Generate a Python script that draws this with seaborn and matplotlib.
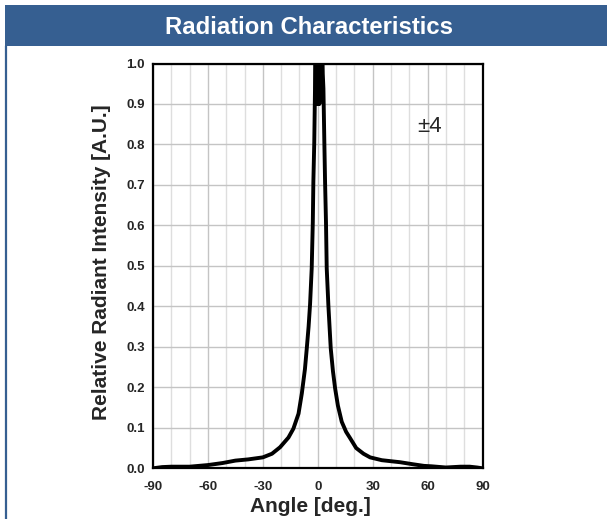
import numpy as np
import pandas as pd
import matplotlib
matplotlib.use("Agg")
import matplotlib.pyplot as plt
import seaborn as sns
from matplotlib.patches import Rectangle
from matplotlib.lines import Line2D

# valores
angulos = [-90, -85, -80, -70, -60, -52, -45, -38, -30, -25, -20.6, -16, -13.3, -10.5,
           -8.7, -7.0, -6.0, -5.0, -4.2, -3.3, -2.7, -2.4, -1.9, -1.5, -1.2,
           -0.9, -0.6, -0.3, 0.0, 0.3, 0.6, 0.9, 1.2, 1.5, 1.8, 2.1,
           2.5, 3.1, 3.6, 4.0, 4.5, 4.9, 5.8, 7.1, 8.3, 9.5, 11.0, 13.1, 15.5, 17.6,
           21.0, 25.0, 28.6, 35.0, 45.0, 52.0, 58.0, 62.0, 70.0, 78.0, 83.0, 87.0, 90.0]
intensidade = [0.0, 0.003, 0.004, 0.004, 0.008, 0.013, 0.019, 0.022, 0.027, 0.036, 0.052, 0.076, 0.098, 0.135,
               0.185, 0.245, 0.296, 0.350, 0.405, 0.494, 0.608, 0.707, 0.806, 0.938, 1.0,
               0.91, 1.0, 0.90, 1.0, 0.90, 1.0, 0.90, 1.0, 0.91, 1.0, 0.93,
               1.0, 0.938, 0.806, 0.707, 0.608, 0.494, 0.403, 0.296, 0.240, 0.197, 0.155, 0.115, 0.090, 0.075,
               0.050, 0.036, 0.027, 0.020, 0.015, 0.010, 0.006, 0.005, 0.002, 0.004, 0.004, 0.002, 0.0]

xticks = [-90, -60, -30, 0, 30, 60, 90]
yticks = [round(v * 0.1, 1) for v in range(11)]

sns.set_style("white")
plt.rcParams['font.family'] = ['Liberation Sans', 'DejaVu Sans']

fig = plt.figure(figsize=(6.07, 5.19), dpi=100)

# faixa azul do título e borda esquerda
azul = '#365f91'
fig.patches.append(Rectangle((5 / 607, 1 - 46 / 519), 1 - 5 / 607, 41 / 519,
                             transform=fig.transFigure, facecolor=azul, edgecolor='none'))
fig.lines.append(Line2D([5.5 / 607, 5.5 / 607], [0, 1 - 46 / 519], transform=fig.transFigure,
                        color=azul, linewidth=1.6))
fig.text(0.509, 1 - 27 / 519, "Radiation Characteristics", color='white', fontsize=17.2,
         fontweight='bold', ha='center', va='center')

ax = fig.add_axes([153 / 607, 1 - 468.3 / 519, 329.5 / 607, 404.8 / 519])

df = pd.DataFrame({'Angulo': angulos, 'Intensidade': intensidade})
sns.lineplot(data=df, x='Angulo', y='Intensidade', ax=ax, color='black', linewidth=2.8,
             sort=False, zorder=5)

ax.set_xlim(-90, 90)
ax.set_ylim(0, 1.0)
ax.set_xticks(xticks)
ax.set_yticks(yticks)
ax.set_xticklabels([str(v) for v in xticks], fontsize=9.5, fontweight='bold')
ax.set_yticklabels([f"{v:.1f}" for v in yticks], fontsize=9.5, fontweight='bold')
ax.set_xticks(list(range(-80, 90, 10)), minor=True)

ax.grid(which='major', axis='both', color='#c4c4c4', linewidth=1.0)
ax.grid(which='minor', axis='x', color='#dedede', linewidth=1.0)
ax.set_axisbelow(True)
ax.tick_params(axis='x', which='both', length=0, pad=9)
ax.tick_params(axis='y', length=3, width=1, direction='out', pad=3)

for sp in ax.spines.values():
    sp.set_color('black')
    sp.set_linewidth(1.6)
    sp.set_visible(True)

ax.set_xlabel("Angle [deg.]", fontsize=15, fontweight='bold', labelpad=3)
ax.xaxis.label.set_x(0.477)
ax.set_ylabel("Relative Radiant Intensity [A.U.]", fontsize=15, fontweight='bold', labelpad=11)
ax.yaxis.label.set_y(0.51)

ax.text(0.84, 0.845, "±4", transform=ax.transAxes, fontsize=16, ha='center', va='center')

fig.savefig("out.png", dpi=100)
